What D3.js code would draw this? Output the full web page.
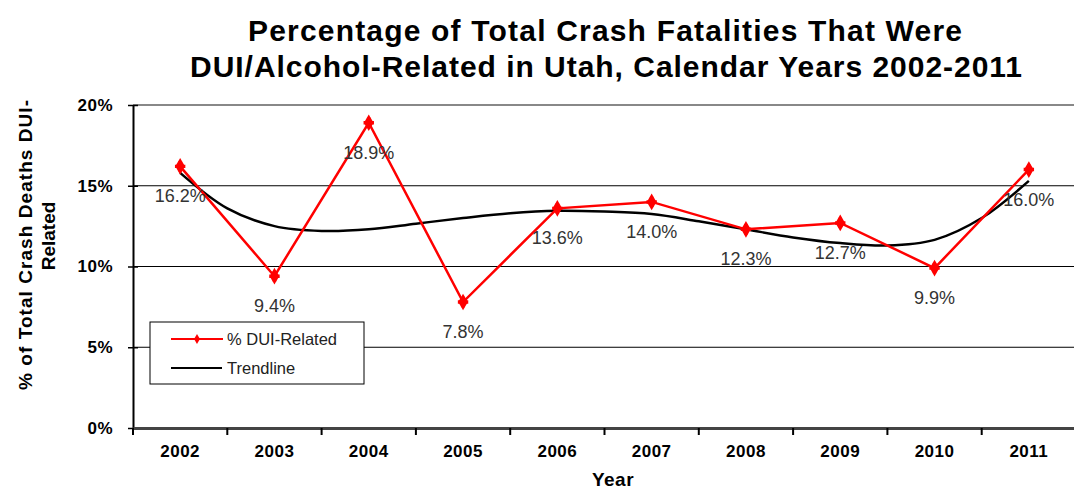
<!DOCTYPE html>
<html>
<head>
<meta charset="utf-8">
<script src="https://cdn.jsdelivr.net/npm/d3@7"></script>
<style>
  body { margin: 0; background: #fff; }
  svg { display: block; font-family: Arial, "Liberation Sans", sans-serif; }
</style>
</head>
<body>
<svg id="chart"></svg>
<script>
const years = ["2002", "2003", "2004", "2005", "2006", "2007", "2008", "2009", "2010", "2011"];
const duiPct = [16.2, 9.4, 18.9, 7.8, 13.6, 14.0, 12.3, 12.7, 9.9, 16.0];
// trendline every half year
const trendYears = [2002, 2002.5, 2003, 2003.5, 2004, 2004.5, 2005, 2005.5, 2006, 2006.5,
  2007, 2007.5, 2008, 2008.5, 2009, 2009.5, 2010, 2010.5, 2011];
const trendPct = [15.8, 13.6, 12.5, 12.2, 12.3, 12.65, 13.0, 13.3, 13.45, 13.4,
  13.25, 12.8, 12.3, 11.8, 11.45, 11.3, 11.65, 13.0, 15.3];
const yTicks = [0, 5, 10, 15, 20];

const w = 1074;
const h = 491;
const m = { left: 133, right: 1076, top: 105, bottom: 428 };

const svg = d3.select("#chart").attr("width", w).attr("height", h);

const x = d3.scaleBand().domain(years).range([m.left, m.right]);
const xTrend = d3
  .scaleLinear()
  .domain([2002, 2011])
  .range([x("2002") + x.bandwidth() / 2, x("2011") + x.bandwidth() / 2]);
const y = d3.scaleLinear().domain([0, 20]).range([m.bottom, m.top]);

// gridlines
svg
  .append("g")
  .selectAll("line")
  .data([5, 10, 15])
  .enter()
  .append("line")
  .attr("x1", m.left)
  .attr("x2", w)
  .attr("y1", (d) => y(d))
  .attr("y2", (d) => y(d))
  .attr("stroke", "#000")
  .attr("stroke-width", 1);

// top border
svg
  .append("line")
  .attr("x1", m.left)
  .attr("x2", w)
  .attr("y1", m.top)
  .attr("y2", m.top)
  .attr("stroke", "#888")
  .attr("stroke-width", 2);

// axes
const yAxis = d3
  .axisLeft(y)
  .tickValues(yTicks)
  .tickFormat((d) => d + "%")
  .tickSizeInner(5)
  .tickSizeOuter(0)
  .tickPadding(15);

const gy = svg.append("g").attr("transform", `translate(${m.left},0)`).call(yAxis);
gy.select(".domain").attr("stroke", "#000").attr("stroke-width", 2);
gy.selectAll(".tick line").attr("x2", 5).attr("x1", -5).attr("stroke-width", 1.5);
gy.selectAll("text")
  .attr("font-size", 17)
  .attr("font-weight", "bold")
  .attr("fill", "#000")
  .attr("letter-spacing", 0.5);

const xAxis = d3.axisBottom(x).tickSize(0).tickPadding(17);
const gx = svg.append("g").attr("transform", `translate(0,${m.bottom})`).call(xAxis);
gx.select(".domain").attr("stroke", "#444").attr("stroke-width", 3);
gx.selectAll("text")
  .attr("font-size", 17)
  .attr("font-weight", "bold")
  .attr("fill", "#000")
  .attr("letter-spacing", 0.5);

// x tick marks at band boundaries
svg
  .append("g")
  .selectAll("line")
  .data(years.concat(["end"]))
  .enter()
  .append("line")
  .attr("x1", (d, i) => m.left + i * x.step())
  .attr("x2", (d, i) => m.left + i * x.step())
  .attr("y1", m.bottom)
  .attr("y2", m.bottom + 7)
  .attr("stroke", "#000")
  .attr("stroke-width", 2);

// trendline
svg
  .append("path")
  .datum(trendYears.map((t, i) => [t, trendPct[i]]))
  .attr("fill", "none")
  .attr("stroke", "#000")
  .attr("stroke-width", 2.5)
  .attr(
    "d",
    d3
      .line()
      .x((d) => xTrend(d[0]))
      .y((d) => y(d[1]))
      .curve(d3.curveCatmullRom)
  );

// data line
const cx = (d, i) => x(years[i]) + x.bandwidth() / 2;
svg
  .append("path")
  .datum(duiPct)
  .attr("fill", "none")
  .attr("stroke", "#ff0000")
  .attr("stroke-width", 2.5)
  .attr("d", d3.line().x(cx).y((d) => y(d)));

const diamond = d3.symbol().type(d3.symbolDiamond).size(80);
const cross = d3.symbol().type(d3.symbolCross).size(60);

const pts = svg
  .append("g")
  .selectAll("g")
  .data(duiPct)
  .enter()
  .append("g")
  .attr("transform", (d, i) => `translate(${cx(d, i)},${y(d)})`);
pts.append("path").attr("d", diamond).attr("fill", "#ff0000");
pts.append("path").attr("d", cross).attr("fill", "#ff0000");

// data labels
svg
  .append("g")
  .selectAll("text")
  .data(duiPct)
  .enter()
  .append("text")
  .attr("x", cx)
  .attr("y", (d) => y(d) + 36)
  .attr("text-anchor", "middle")
  .attr("font-size", 18)
  .attr("fill", "#333")
  .text((d) => d.toFixed(1) + "%");

// legend
const legend = svg.append("g").attr("transform", "translate(150,322)");
legend
  .append("rect")
  .attr("width", 214)
  .attr("height", 62)
  .attr("fill", "#fff")
  .attr("stroke", "#000")
  .attr("stroke-width", 1);
legend
  .append("line")
  .attr("x1", 21).attr("x2", 73).attr("y1", 17).attr("y2", 17)
  .attr("stroke", "#ff0000").attr("stroke-width", 2);
legend
  .append("path")
  .attr("transform", "translate(47,17)")
  .attr("d", d3.symbol().type(d3.symbolDiamond).size(30))
  .attr("fill", "#ff0000");
legend
  .append("line")
  .attr("x1", 21).attr("x2", 72).attr("y1", 46).attr("y2", 46)
  .attr("stroke", "#000").attr("stroke-width", 2);
legend
  .append("text").attr("x", 77).attr("y", 23).attr("font-size", 16.5).attr("fill", "#222")
  .text("% DUI-Related");
legend
  .append("text").attr("x", 77).attr("y", 52).attr("font-size", 16.5).attr("fill", "#222")
  .text("Trendline");

// titles
svg
  .append("text")
  .attr("x", 605)
  .attr("y", 41)
  .attr("text-anchor", "middle")
  .attr("font-size", 30)
  .attr("font-weight", "bold")
  .attr("textLength", 714)
  .attr("lengthAdjust", "spacing")
  .text("Percentage of Total Crash Fatalities That Were");
svg
  .append("text")
  .attr("x", 606)
  .attr("y", 77)
  .attr("text-anchor", "middle")
  .attr("font-size", 30)
  .attr("font-weight", "bold")
  .attr("textLength", 832)
  .attr("lengthAdjust", "spacing")
  .text("DUI/Alcohol-Related in Utah, Calendar Years 2002-2011");

svg
  .append("text")
  .attr("transform", "translate(32,245) rotate(-90)")
  .attr("text-anchor", "middle")
  .attr("font-size", 19)
  .attr("font-weight", "bold")
  .attr("textLength", 290)
  .attr("lengthAdjust", "spacing")
  .text("% of Total Crash Deaths DUI-");
svg
  .append("text")
  .attr("transform", "translate(55,236) rotate(-90)")
  .attr("text-anchor", "middle")
  .attr("font-size", 19)
  .attr("font-weight", "bold")
  .text("Related");

svg
  .append("text")
  .attr("x", 613)
  .attr("y", 486)
  .attr("text-anchor", "middle")
  .attr("font-size", 19)
  .attr("font-weight", "bold")
  .attr("letter-spacing", 0.5)
  .text("Year");
</script>
</body>
</html>
